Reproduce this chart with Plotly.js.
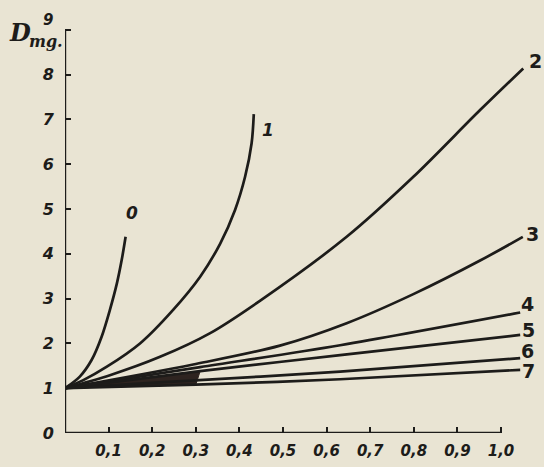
<!DOCTYPE html>
<html>
<head>
<meta charset="utf-8">
<script src="https://cdn.plot.ly/plotly-3.0.1.min.js"></script>
<style>html,body{margin:0;padding:0;background:#e9e4d3;}#chart{width:544px;height:467px;}</style>
</head>
<body>
<div id="chart"></div>
<script>
// x ticks (concentration) and y ticks
const xTickVals = [0.1,0.2,0.3,0.4,0.5,0.6,0.7,0.8,0.9,1.0];
const xTickText = ["0,1","0,2","0,3","0,4","0,5","0,6","0,7","0,8","0,9","1,0"];
const yTickVals = [0,1,2,3,4,5,6,7,8,9];
const yTickText = ["0","1","2","3","4","5","6","7","8",""];
const yTopLabel = "9";
const yTitleMain = "D";
const yTitleSub = "mg.";

// curves
const curveNames = ["0","1","2","3","4","5","6","7"];
const x0 = [0, 0.034, 0.061, 0.084, 0.103, 0.119, 0.130, 0.139];
const y0 = [1, 1.26, 1.63, 2.15, 2.75, 3.34, 3.86, 4.38];
const x1 = [0, 0.042, 0.096, 0.172, 0.248, 0.310, 0.356, 0.390, 0.413, 0.428, 0.433];
const y1 = [1, 1.18, 1.48, 2.0, 2.75, 3.49, 4.23, 4.98, 5.72, 6.47, 7.12];
const x2 = [0, 0.103, 0.218, 0.333, 0.447, 0.646, 0.799, 0.952, 1.051];
const y2 = [1, 1.29, 1.70, 2.23, 2.95, 4.38, 5.72, 7.21, 8.14];
const x3 = [0, 0.294, 0.493, 0.646, 0.799, 0.952, 1.05];
const y3 = [1, 1.53, 1.95, 2.45, 3.1, 3.85, 4.38];
const x4 = [0, 0.31, 0.631, 1.044];
const y4 = [1, 1.47, 1.96, 2.69];
const x5 = [0, 0.31, 0.631, 1.044];
const y5 = [1, 1.38, 1.74, 2.19];
const x6 = [0, 0.218, 0.631, 1.044];
const y6 = [1, 1.13, 1.37, 1.67];
const x7 = [0, 0.3, 0.631, 1.044];
const y7 = [1, 1.08, 1.2, 1.41];

// curve label positions
const labelX = [0.154, 0.466, 1.08, 1.073, 1.06, 1.062, 1.06, 1.062];
const labelY = [4.91, 6.76, 8.3, 4.44, 2.88, 2.3, 1.83, 1.38];

const xs = [x0,x1,x2,x3,x4,x5,x6,x7];
const ys = [y0,y1,y2,y3,y4,y5,y6,y7];
const ink = "#1d1c1a";

// ink smudge where curves 4-7 overlap near the origin (built from curves 5 and 7)
const smudge = {
  x: [x5[0], x5[1], x7[1], x7[0]],
  y: [y5[0], y5[1], y7[1], y7[0]],
  type: "scatter", mode: "lines", fill: "toself", fillcolor: "#2e2420",
  line: {color: "#2e2420", width: 1}, hoverinfo: "skip", name: "overlap"
};

const traces = [smudge].concat(xs.map((xv, i) => ({
  x: xv, y: ys[i], name: curveNames[i], type: "scatter", mode: "lines",
  line: {color: ink, width: 2.7, shape: "spline", smoothing: 0.9},
  hoverinfo: "skip"
})));

const annotations = curveNames.map((n, i) => ({
  x: labelX[i], y: labelY[i], xref: "x", yref: "y", text: n, showarrow: false,
  font: {family: "DejaVu Sans", size: (i < 2 ? 17 : 19), color: ink, weight: "bold", style: (i < 2 ? "italic" : "normal")}
}));
// top y label (drawn slightly above its tick as in the original)
annotations.push({
  xref: "paper", yref: "paper", x: -0.035, y: 0.99, xanchor: "center", yanchor: "middle",
  text: yTopLabel, showarrow: false,
  font: {family: "DejaVu Sans", size: 15, color: ink, style: "italic", weight: "bold"}
});
// y-axis title
annotations.push({
  xref: "paper", yref: "paper", x: -0.094, y: 0.96, xanchor: "center", yanchor: "middle",
  text: yTitleMain, showarrow: false,
  font: {family: "DejaVu Serif", size: 24, color: ink, style: "italic", weight: "bold"}
});
annotations.push({
  xref: "paper", yref: "paper", x: -0.04, y: 0.94, xanchor: "center", yanchor: "middle",
  text: yTitleSub, showarrow: false,
  font: {family: "DejaVu Serif", size: 16, color: ink, style: "italic", weight: "bold"}
});

const layout = {
  width: 544, height: 467,
  margin: {l: 65, r: 0, t: 16, b: 34},
  paper_bgcolor: "#e9e4d3", plot_bgcolor: "#e9e4d3",
  showlegend: false,
  xaxis: {
    range: [0, 1.0986], showgrid: false, zeroline: false, showline: false,
    tickvals: xTickVals, ticktext: xTickText, ticks: "inside", ticklen: 6, tickwidth: 2, tickcolor: ink,
    ticklabelstandoff: 7,
    tickfont: {family: "DejaVu Sans", size: 15, color: ink, style: "italic", weight: "bold"}
  },
  yaxis: {
    range: [0, 9.31], showgrid: false, zeroline: false, showline: false,
    tickvals: yTickVals, ticktext: yTickText, ticks: "inside", ticklen: 6, tickwidth: 2, tickcolor: ink,
    ticklabelstandoff: 10,
    tickfont: {family: "DejaVu Sans", size: 16, color: ink, style: "italic", weight: "bold"}
  },
  shapes: [
    {type: "line", xref: "x", yref: "y", x0: -0.005, x1: 1.0, y0: 0, y1: 0, line: {color: ink, width: 2.4}},
    {type: "line", xref: "x", yref: "y", x0: 0, x1: 0, y0: 0, y1: 9, line: {color: ink, width: 2.4}}
  ],
  annotations: annotations
};

Plotly.newPlot("chart", traces, layout, {staticPlot: true});
</script>
</body>
</html>
